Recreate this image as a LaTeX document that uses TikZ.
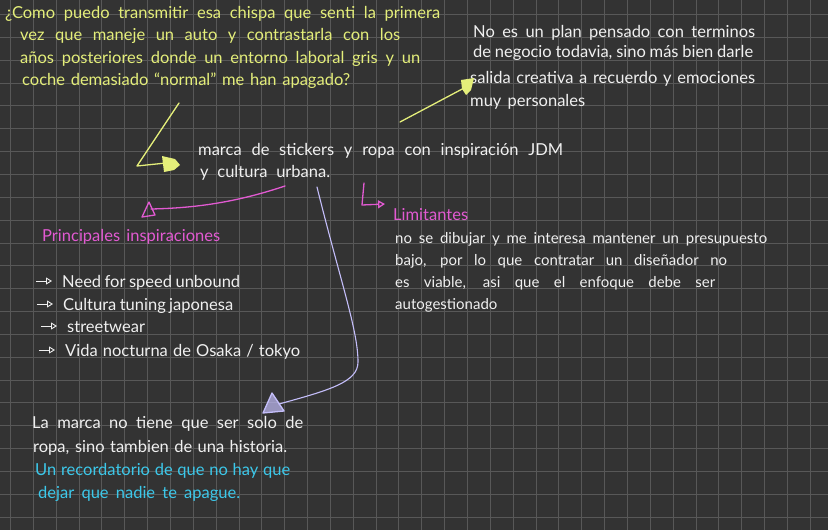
\documentclass[tikz,border=0pt]{standalone}
\usepackage{fontspec}
\setmainfont{Lato}
\usetikzlibrary{arrows.meta}

\definecolor{board}{HTML}{333333}
\definecolor{gridln}{HTML}{585858}
\definecolor{chalkyellow}{HTML}{E4EE7A}
\definecolor{chalkpink}{HTML}{E25AD2}
\definecolor{chalklilac}{HTML}{C4BEFA}
\definecolor{chalkcyan}{HTML}{3CC8EA}
\definecolor{chalkwhite}{HTML}{F0F0F0}

% one handwritten line, spread to the width it has on the board
\newcommand{\wline}[2]{\makebox[#1][s]{#2}}

\begin{document}
\begin{tikzpicture}[
            x=1pt, y=-1pt,
            txt/.style={anchor=base west, inner sep=0pt, text=chalkwhite, font=\fontsize{16.5}{20}\selectfont},
            smalltxt/.style={txt, font=\fontsize{15}{18}\selectfont},
            chalk/.style={line width=1.3pt, line cap=round, line join=round},
            bullet/.style={chalkwhite, line width=0.9pt, -{Triangle[open,length=6pt,width=7pt]}}
        ]
            \fill[board] (0,0) rectangle (828,530);
            \useasboundingbox (0,0) rectangle (828,530);

            \foreach \i in {0,...,35} {
                \draw[gridln, line width=0.8pt] ({10.4+22.85*\i},0) -- ({10.4+22.85*\i},530);
            }
            \foreach \j in {0,...,22} {
                \draw[gridln, line width=0.8pt] (0,{14.4+22.85*\j}) -- (828,{14.4+22.85*\j});
            }

            % question
            \node[txt, text=chalkyellow] (q1) at (5,18) {\wline{435pt}{¿Como puedo transmitir esa chispa que senti la primera}};
            \node[txt, text=chalkyellow] (q2) at (20,40) {\wline{380pt}{vez que maneje un auto y contrastarla con los}};
            \node[txt, text=chalkyellow] (q3) at (20,63) {\wline{400pt}{años posteriores donde un entorno laboral gris y un}};
            \node[txt, text=chalkyellow] (q4) at (22,85) {\wline{328pt}{coche demasiado ``normal'' me han apagado?}};

            % reason
            \node[txt] (r1) at (473,37) {\wline{282pt}{No es un plan pensado con terminos}};
            \node[txt] (r2) at (473,57) {\wline{280pt}{de negocio todavia, sino más bien darle}};
            \node[txt] (r3) at (470,83) {\wline{285pt}{salida creativa a recuerdo y emociones}};
            \node[txt] (r4) at (470,106) {\wline{115pt}{muy personales}};

            % brand
            \node[txt] (m1) at (198,155) {\wline{365pt}{marca de stickers y ropa con inspiración JDM}};
            \node[txt] (m2) at (200,177) {\wline{130pt}{y cultura urbana.}};

            % limits
            \node[txt, text=chalkpink] (lim) at (393,220) {\wline{76pt}{Limitantes}};
            \node[smalltxt] (l1) at (395,243) {\wline{372pt}{no se dibujar y me interesa mantener un presupuesto}};
            \node[smalltxt] (l2) at (395,265) {\wline{332pt}{bajo, por lo que contratar un diseñador no}};
            \node[smalltxt] (l3) at (395,287) {\wline{320pt}{es viable, asi que el enfoque debe ser}};
            \node[smalltxt] (l4) at (395,309) {autogestionado};

            % inspirations
            \node[txt, text=chalkpink] (insp) at (42,241) {\wline{178pt}{Principales inspiraciones}};
            \node[txt] (i1) at (62,287) {\wline{178pt}{Need for speed unbound}};
            \node[txt] (i2) at (63,310) {\wline{170pt}{Cultura tuning japonesa}};
            \node[txt] (i3) at (67,332) {streetwear};
            \node[txt] (i4) at (65,356) {\wline{235pt}{Vida nocturna de Osaka / tokyo}};
            \foreach \n in {i1,i2,i3,i4} {
                \draw[bullet] ([xshift=-26pt,yshift=6pt]\n.base west) -- ([xshift=-10pt,yshift=6pt]\n.base west);
            }

            % story
            \node[txt] (h1) at (32,428) {\wline{271pt}{La marca no tiene que ser solo de}};
            \node[txt] (h2) at (33,452) {\wline{254pt}{ropa, sino tambien de una historia.}};
            \node[txt, text=chalkcyan] (h3) at (35,475) {\wline{255pt}{Un recordatorio de que no hay que}};
            \node[txt, text=chalkcyan] (h4) at (38,498) {\wline{202pt}{dejar que nadie te apague.}};

            % arrow ends
            \coordinate (qa) at (179,103);
            \coordinate (qb) at (137,166);
            \coordinate (qc) at (166,163);
            \coordinate (ma) at (400,122);
            \coordinate (mb) at (466,87);
            \coordinate (pa) at (285,186);
            \coordinate (pb) at (151,209);
            \coordinate (va) at (317,187);
            \coordinate (vb) at (279,404);

            \draw[chalk, chalkyellow] (qa) -- (qb) -- (qc);
            \fill[chalkyellow] (162,156) -- (175,159) -- (180,165) -- (174,170) -- (164,172) -- cycle;

            \draw[chalk, chalkyellow] (ma) -- (mb);
            \fill[chalkyellow] (461,80) -- (474,78) -- (471,90) -- (466,95) -- (462,89) -- cycle;

            \draw[chalk, chalkpink] (pa) .. controls (240,201) and (200,208) .. (pb);
            \draw[chalk, chalkpink] (142,217) -- (149,202) -- (155,215) -- cycle;

            \draw[chalk, chalkpink, -{Triangle[open,length=7pt,width=8pt]}] (364,183) -- (362,205) -- (385,204);

            \draw[chalk, chalklilac, line width=1.1pt] (va) .. controls (340,280) and (358,330) .. (358,362)
                .. controls (358,382) and (330,390) .. (vb);
            \draw[chalk, chalklilac, fill=chalklilac, fill opacity=0.7] (272,393) -- (263,413) -- (284,411) -- cycle;
        \end{tikzpicture}
\end{document}
